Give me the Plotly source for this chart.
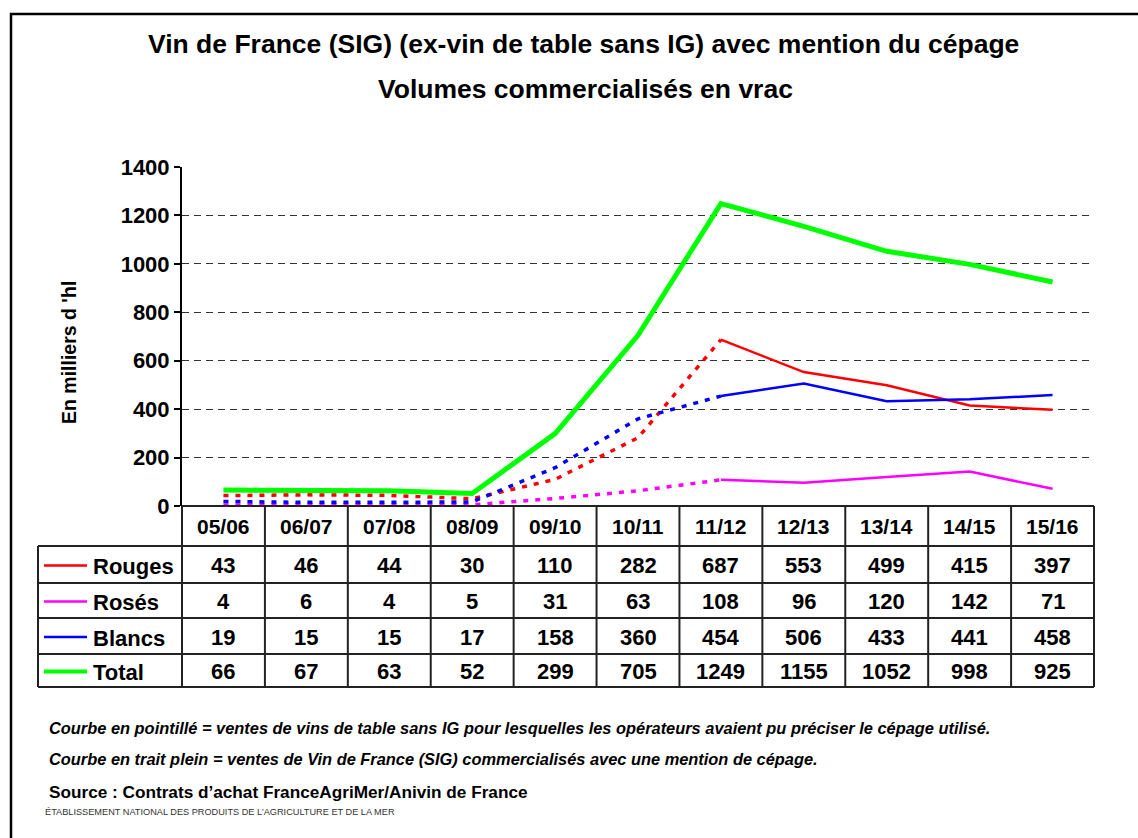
import plotly.graph_objects as go

# ---------------- data ----------------
campaigns = ["05/06", "06/07", "07/08", "08/09", "09/10", "10/11",
             "11/12", "12/13", "13/14", "14/15", "15/16"]
rouges = [43, 46, 44, 30, 110, 282, 687, 553, 499, 415, 397]
roses = [4, 6, 4, 5, 31, 63, 108, 96, 120, 142, 71]
blancs = [19, 15, 15, 17, 158, 360, 454, 506, 433, 441, 458]
total = [66, 67, 63, 52, 299, 705, 1249, 1155, 1052, 998, 925]
series_names = ["Rouges", "Rosés", "Blancs", "Total"]
y_ticks = [0, 200, 400, 600, 800, 1000, 1200, 1400]
split_idx = 6  # first "Vin de France (SIG)" campaign (11/12)

title1 = "Vin de France (SIG) (ex-vin de table sans IG) avec mention du cépage"
title2 = "Volumes commercialisés en vrac"
y_title = "En milliers d 'hl"
note1 = "Courbe en pointillé = ventes de vins de table sans IG pour lesquelles les opérateurs avaient pu préciser le cépage utilisé."
note2 = "Courbe en trait plein = ventes de Vin de France (SIG) commercialisés avec une mention de cépage."
source = "Source : Contrats d’achat FranceAgriMer/Anivin de France"
org = "ÉTABLISSEMENT NATIONAL DES PRODUITS DE L’AGRICULTURE ET DE LA MER"

# ---------------- geometry / style ----------------
W, H = 1138, 838
FONT = "Liberation Sans, Arial, sans-serif"
def px(x):
    return x / W
def py(y):
    return 1 - y / H

X0, X1 = 182, 1094      # plot / table left and right
Y_TOP, Y_ZERO = 167, 506
LABEL_X0 = 38
ROW_EDGES = [506, 546, 583, 618, 654, 687]

colors = {"Rouges": "#FF0000", "Rosés": "#FF00FF", "Blancs": "#0000FF", "Total": "#00FF00"}
values = {"Rouges": rouges, "Rosés": roses, "Blancs": blancs, "Total": total}

fig = go.Figure()

for name in ["Rouges", "Rosés", "Blancs"]:
    v = values[name]
    fig.add_trace(go.Scatter(
        x=campaigns[:split_idx + 1], y=v[:split_idx + 1], mode="lines",
        line=dict(color=colors[name], width=3.5, dash="5px,7px"),
        showlegend=False, hoverinfo="skip"))
    fig.add_trace(go.Scatter(
        x=campaigns[split_idx:], y=v[split_idx:], mode="lines",
        line=dict(color=colors[name], width=2.5),
        showlegend=False, name=name))

fig.add_trace(go.Scatter(
    x=campaigns, y=total, mode="lines",
    line=dict(color=colors["Total"], width=5),
    showlegend=False, name="Total"))

shapes = []
line_style = dict(color="#222222", width=2)
shapes.append(dict(type="line", xref="paper", yref="paper",
                   x0=px(X0), x1=px(X1), y0=py(ROW_EDGES[0]), y1=py(ROW_EDGES[0]), line=line_style))
for ye in ROW_EDGES[1:]:
    shapes.append(dict(type="line", xref="paper", yref="paper",
                       x0=px(LABEL_X0), x1=px(X1), y0=py(ye), y1=py(ye), line=line_style))
ncol = len(campaigns)
for i in range(ncol + 1):
    xe = X0 + (X1 - X0) * i / ncol
    shapes.append(dict(type="line", xref="paper", yref="paper",
                       x0=px(xe), x1=px(xe), y0=py(ROW_EDGES[0]), y1=py(ROW_EDGES[-1]), line=line_style))
shapes.append(dict(type="line", xref="paper", yref="paper",
                   x0=px(LABEL_X0), x1=px(LABEL_X0), y0=py(ROW_EDGES[1]), y1=py(ROW_EDGES[-1]), line=line_style))
# outer frame (right / bottom edges fall outside the picture)
shapes.append(dict(type="rect", xref="paper", yref="paper",
                   x0=px(11), x1=px(1150), y0=py(14), y1=py(850),
                   line=dict(color="#000000", width=2.5)))

annotations = []
TF = dict(family=FONT, size=22, color="#000000")
for c in campaigns:
    annotations.append(dict(x=c, xref="x", y=py((ROW_EDGES[0] + ROW_EDGES[1]) / 2), yref="paper",
                            text="<b>%s</b>" % c, showarrow=False,
                            font=dict(family=FONT, size=21, color="#000"),
                            xanchor="center", yanchor="middle"))
for r, name in enumerate(series_names):
    yc = (ROW_EDGES[r + 1] + ROW_EDGES[r + 2]) / 2 + 1
    shapes.append(dict(type="line", xref="paper", yref="paper",
                       x0=px(44), x1=px(87), y0=py(yc), y1=py(yc),
                       line=dict(color=colors[name], width=4 if name == "Total" else 2.5)))
    annotations.append(dict(x=px(91), xref="paper", y=py(yc + 1), yref="paper",
                            text="<b>%s</b>" % name, showarrow=False, font=TF,
                            xanchor="left", yanchor="middle"))
    for c, v in zip(campaigns, values[name]):
        annotations.append(dict(x=c, xref="x", y=py(yc), yref="paper",
                                text="<b>%d</b>" % v, showarrow=False, font=TF,
                                xanchor="center", yanchor="middle"))

annotations.append(dict(x=px(583), y=py(44), xref="paper", yref="paper", text="<b>%s</b>" % title1,
                        showarrow=False, font=dict(family=FONT, size=26.5, color="#000"),
                        xanchor="center", yanchor="middle"))
annotations.append(dict(x=px(585), y=py(89), xref="paper", yref="paper", text="<b>%s</b>" % title2,
                        showarrow=False, font=dict(family=FONT, size=26.5, color="#000"),
                        xanchor="center", yanchor="middle"))
annotations.append(dict(x=px(69), y=py(353), xref="paper", yref="paper", text="<b>%s</b>" % y_title,
                        showarrow=False, textangle=-90, font=dict(family=FONT, size=19.5, color="#000"),
                        xanchor="center", yanchor="middle"))
annotations.append(dict(x=px(47), y=py(728), xref="paper", yref="paper", text="<b><i>%s</i></b>" % note1,
                        showarrow=False, font=dict(family=FONT, size=16.4, color="#000"),
                        xanchor="left", yanchor="middle"))
annotations.append(dict(x=px(47), y=py(759), xref="paper", yref="paper", text="<b><i>%s</i></b>" % note2,
                        showarrow=False, font=dict(family=FONT, size=16.4, color="#000"),
                        xanchor="left", yanchor="middle"))
annotations.append(dict(x=px(47), y=py(792), xref="paper", yref="paper", text="<b>%s</b>" % source,
                        showarrow=False, font=dict(family=FONT, size=17.2, color="#000"),
                        xanchor="left", yanchor="middle"))
annotations.append(dict(x=px(43), y=py(812), xref="paper", yref="paper", text=org,
                        showarrow=False, font=dict(family=FONT, size=9.2, color="#333333"),
                        xanchor="left", yanchor="middle"))

fig.update_layout(
    template="none", autosize=False,
    width=W, height=H, margin=dict(l=0, r=0, t=0, b=0, pad=0),
    paper_bgcolor="white", plot_bgcolor="white",
    font=dict(family=FONT, color="#000"),
    showlegend=False,
    xaxis=dict(domain=[px(X0), px(X1)], range=[-0.5, len(campaigns) - 0.5],
               type="category", categoryarray=campaigns, showticklabels=False,
               showgrid=False, zeroline=False, showline=False, ticks="", automargin=False),
    yaxis=dict(domain=[py(Y_ZERO), py(Y_TOP)], range=[0, 1400], tickvals=y_ticks,
               ticktext=["<b>%d</b>" % t for t in y_ticks],
               tickfont=dict(family=FONT, size=22, color="#000"),
               showgrid=True, gridcolor="#333333", griddash="7px,5px", gridwidth=1,
               zeroline=False, showline=True, linecolor="#000", linewidth=2,
               ticks="outside", ticklen=6, tickcolor="#000", tickwidth=1.5, automargin=False),
    shapes=shapes, annotations=annotations,
)

fig.write_html("out.html", config={"displayModeBar": False},
               post_script="document.body.style.margin='0';document.body.style.overflow='hidden';")
